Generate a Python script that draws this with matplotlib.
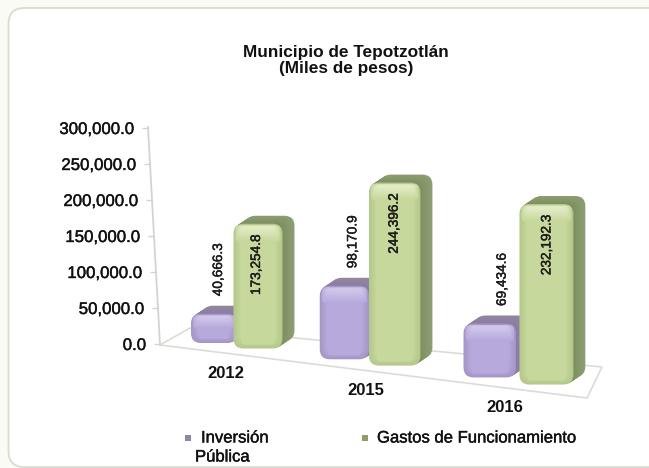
import matplotlib
matplotlib.use("Agg")
import matplotlib.pyplot as plt
import matplotlib.patheffects as pe
from matplotlib.patches import FancyBboxPatch, Polygon, Rectangle
from matplotlib.transforms import IdentityTransform, Affine2D
from matplotlib.colors import to_rgb

years = ["2012", "2015", "2016"]
inversion = [40666.3, 98170.9, 69434.6]
gastos = [173254.8, 244396.2, 232192.3]
tick_values = [0, 50000, 100000, 150000, 200000, 250000, 300000]
title = "Municipio de Tepotzotlán\n(Miles de pesos)"

W, H = 649, 468
plt.rcParams["font.family"] = ["Liberation Sans", "DejaVu Sans"]

fig = plt.figure(figsize=(W / 100, H / 100), dpi=100, facecolor="#fbfbf5")
ident = IdentityTransform()
heavy = [pe.withStroke(linewidth=0.3, foreground="#111111")]

# rounded frame runs off the right edge
frame = FancyBboxPatch((8.5, H - 467), 680, 459, boxstyle="round,pad=0,rounding_size=16",
                       fc="white", ec="#d9dccd", lw=1.3, transform=ident, zorder=-5)
fig.add_artist(frame)

ax = fig.add_axes([148 / W, 1 - 344 / H, (620 - 148) / W, 216 / H])
ax.patch.set_visible(False)
for s in ax.spines.values():
    s.set_visible(False)
ax.set_ylim(0, 300000)
ax.set_xlim(-0.638, 2.746)
ax.set_xticks([])
ax.set_yticks(tick_values)
ax.set_yticklabels([f"{v:,.1f}" for v in tick_values])
ax.tick_params(axis="y", length=4, width=1, color="#d4d4ce", pad=6, labelsize=12.1, labelcolor="#111111")

# value axis leans to the right towards the floor
for v, tick in zip(tick_values, ax.yaxis.get_major_ticks()):
    shift = Affine2D().translate(12 * (1 - v / 300000), 0)
    tick.tick1line.set_transform(tick.tick1line.get_transform() + shift)
    tick.label1.set_transform(tick.label1.get_transform() + shift)
    tick.label1.set_path_effects(heavy)


def to_px(c, v=0, x_off=0):
    # fake perspective on top of the axes scale
    x, y = ax.transData.transform((c, 0))
    _, top = ax.transData.transform((c, v))
    x = x - 7.5 * c * (2 - c) + x_off
    return x, y, (top - y) * (1 + 0.04 * c)


def baseline(x):
    _, y0 = ax.transData.transform((0, 0))
    return y0 + 1 - 0.125 * (x - 214)


def mix(a, b, t):
    a, b = to_rgb(a), to_rgb(b)
    return tuple(a[i] + (b[i] - a[i]) * t for i in range(3))


def rounded(x, y, w, h, r, color, z):
    p = FancyBboxPatch((x, y), w, h, boxstyle=f"round,pad=0,rounding_size={r}",
                       fc=color, ec="none", transform=ident, clip_on=False, zorder=z)
    ax.add_patch(p)


def draw_bar(x, w, v, c, edge, face, hi, side, side_top, z):
    _, _, h = to_px(c, v)
    y = baseline(x + w / 2)
    r = min(10, h / 3)
    dx, dy = 12, 8
    # extrusion, back to front, a bit lighter towards the back
    for i in range(14, 0, -1):
        t = i / 14
        rounded(x + dx * t, y + dy * t, w, h, r, mix(side, side_top, t), z)
    # highlight sits under the face layers and shows through at the top
    n = 10
    for i in range(n):
        t = i / (n - 1)
        inset = i * 0.8
        rounded(x + inset, y + inset, w - 2 * inset, h - 2 * inset, max(r - inset / 2, 1),
                mix(edge, face, t), z + 0.1)
    hb = min(16, h * 0.45)
    m = 12
    for i in range(m):
        t = i / (m - 1)
        rounded(x + 2 + t * 5, y + h - 1.5 - hb + t * hb * 0.75, w - 4 - t * 10, hb * (1 - t * 0.8), 4,
                mix(face, hi, t * 0.9), z + 0.2)
    for i in range(m):
        t = i / (m - 1)
        rounded(x + 8 + t, y + 4 + t * 4, w - 16 - 2 * t, h - hb - 6 - t * 6 if h - hb - 6 - t * 6 > 2 else 2, 3,
                mix(face, face, t), z + 0.15)
    return y + h


# floor
floor = [(160, H - 345), (190, H - 328), (602, H - 367), (587, H - 398)]
ax.add_patch(Polygon(floor, closed=True, fc="white", ec="#dcdcd6", lw=1.2, transform=ident,
                     clip_on=False, zorder=1))
# slanted value axis
ax.plot([148, 160], [H - 127, H - 345], color="#d4d4ce", lw=1.3, transform=ident, clip_on=False, zorder=1)

for c, year in enumerate(years):
    b, _, _ = to_px(c)
    wp = 46 * (1 + 0.07 * c)
    wg = 49 * (1 + 0.05 * c)
    xp = b - wp
    xg = b - 3.5 + 3.5 * c
    top_p = draw_bar(xp, wp, inversion[c], c, "#a596c6", "#b7a9db", "#d2c9ec", "#8a7da3", "#93879f", 3 + c * 2)
    top_g = draw_bar(xg, wg, gastos[c], c, "#b3c88a", "#c6d89c", "#e4edc8", "#7d8f60", "#8e9e74", 4 + c * 2)
    lp = ax.text(xp + wp / 2 + 4 + 4 * c, top_p + 44, f"{inversion[c]:,.1f}", rotation=90, ha="center", va="center",
                 fontsize=9.8, color="#1c1c1c", transform=ident, zorder=12)
    lg = ax.text(xg + wg / 2 - 2 + c, top_g - 41, f"{gastos[c]:,.1f}", rotation=90, ha="center", va="center",
                 fontsize=9.8, color="#1c1c1c", transform=ident, zorder=12)
    lp.set_path_effects(heavy)
    lg.set_path_effects(heavy)
    xy = ax.transData.transform((c, 0))[0] - 11
    ax.text(xy, baseline(xy) - 28.6, year, ha="center", va="center",
            fontsize=12, fontweight="bold", color="#111111", transform=ident, zorder=12)

fig.text(346 / W, 1 - 60.5 / H, title, ha="center", va="center", fontsize=12.4, fontweight="bold",
         color="#111111", linespacing=1.1)

# legend, wrapped like the original
fig.add_artist(Rectangle((185, H - 441), 6, 6, fc="#8f86a8", ec="none", transform=ident))
fig.add_artist(Rectangle((362, H - 441), 6, 6, fc="#8f9d6c", ec="none", transform=ident))
for x, y, s in [(201, 438, "Inversión"), (195, 457, "Pública"), (377, 438, "Gastos de Funcionamiento")]:
    fig.text(x / W, 1 - y / H, s, va="center", fontsize=12, color="#111111", path_effects=heavy)

fig.savefig("out.png", dpi=100, facecolor=fig.get_facecolor())
